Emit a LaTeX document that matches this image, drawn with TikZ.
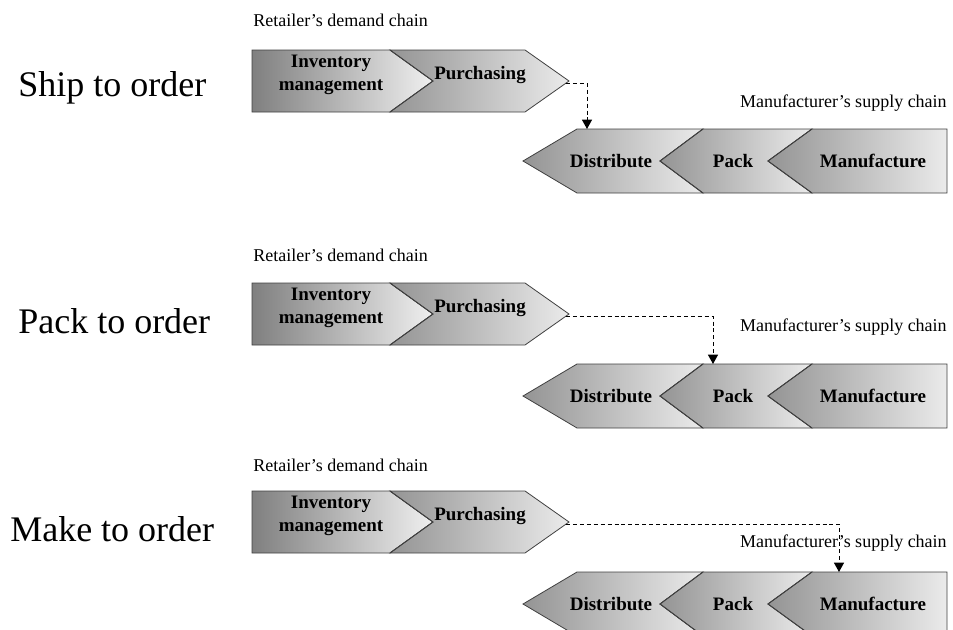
\documentclass[tikz,border=0pt]{standalone}
\usepackage{fontspec}
\setmainfont{Liberation Serif}
\usetikzlibrary{arrows.meta}
\begin{document}
\begin{tikzpicture}[x=0.75pt,y=-0.75pt,
  seg/.style={draw=black!75,line width=0.6pt},
  segA/.style={seg,left color=black!50,right color=black!6},
  segB/.style={seg,left color=black!42,right color=black!8},
  lbl/.style={font=\fontsize{14.25pt}{17pt}\selectfont\bfseries,align=center,inner sep=0pt},
  small/.style={font=\fontsize{13.5pt}{15pt}\selectfont,inner sep=0pt},
  big/.style={font=\fontsize{27pt}{30pt}\selectfont,inner sep=0pt,anchor=west},
  flow/.style={dashed,dash pattern=on 3pt off 2.2pt,line width=0.75pt,-{Triangle[width=7.5pt,length=7pt]}}]
\useasboundingbox (0,0) rectangle (953,629);
\clip (0,0) rectangle (953,629);
\foreach \i/\ry/\my/\ax/\ly/\rl/\tx/\ttl in {1/50/129/587/103/20/18/Ship to order,2/283/364/713/327/255/18/Pack to order,3/491/572/839/543/465/10/Make to order}{
  \pgfmathsetmacro\rb{\ry+62}\pgfmathsetmacro\rm{\ry+31}
  \pgfmathsetmacro\mb{\my+64}\pgfmathsetmacro\mm{\my+32}
  % retailer chain
  \shade[segA] (252,\ry) -- (390,\ry) -- (433,\rm) -- (390,\rb) -- (252,\rb) -- cycle;
  \shade[segB] (390,\ry) -- (525,\ry) -- (569,\rm) -- (525,\rb) -- (390,\rb) -- (433,\rm) -- cycle;
  \draw[seg] (390,\ry) -- (433,\rm) -- (390,\rb);
  % manufacturer chain
  \shade[segB] (523,\mm) -- (577,\my) -- (703,\my) -- (660,\mm) -- (703,\mb) -- (577,\mb) -- cycle;
  \shade[segB] (660,\mm) -- (703,\my) -- (812,\my) -- (768,\mm) -- (812,\mb) -- (703,\mb) -- cycle;
  \shade[segB] (768,\mm) -- (812,\my) -- (947,\my) -- (947,\mb) -- (812,\mb) -- cycle;
  \draw[seg] (703,\my) -- (660,\mm) -- (703,\mb);
  \draw[seg] (812,\my) -- (768,\mm) -- (812,\mb);
  % texts
  \node[big] (title\i) at (\tx,\rm+7) {\ttl};
  \node[small,anchor=west] (rlab\i) at (253,\rl) {Retailer’s demand chain};
  \node[small,anchor=east] (mlab\i) at (947,\ly) {Manufacturer’s supply chain};
  \node[lbl] (inv\i) at (331,\ry+25) {Inventory\\management};
  \node[lbl] (pur\i) at (480,\ry+25) {Purchasing};
  \node[lbl] (dis\i) at (611,\mm) {Distribute};
  \node[lbl] (pack\i) at (733,\mm) {Pack};
  \node[lbl] (man\i) at (873,\mm) {Manufacture};
  % connector
  \coordinate (tip\i) at (566,\ry+33);
  \coordinate (tgt\i) at (\ax,\my);
  \draw[flow] (tip\i) -| (tgt\i);
}
\end{tikzpicture}
\end{document}
